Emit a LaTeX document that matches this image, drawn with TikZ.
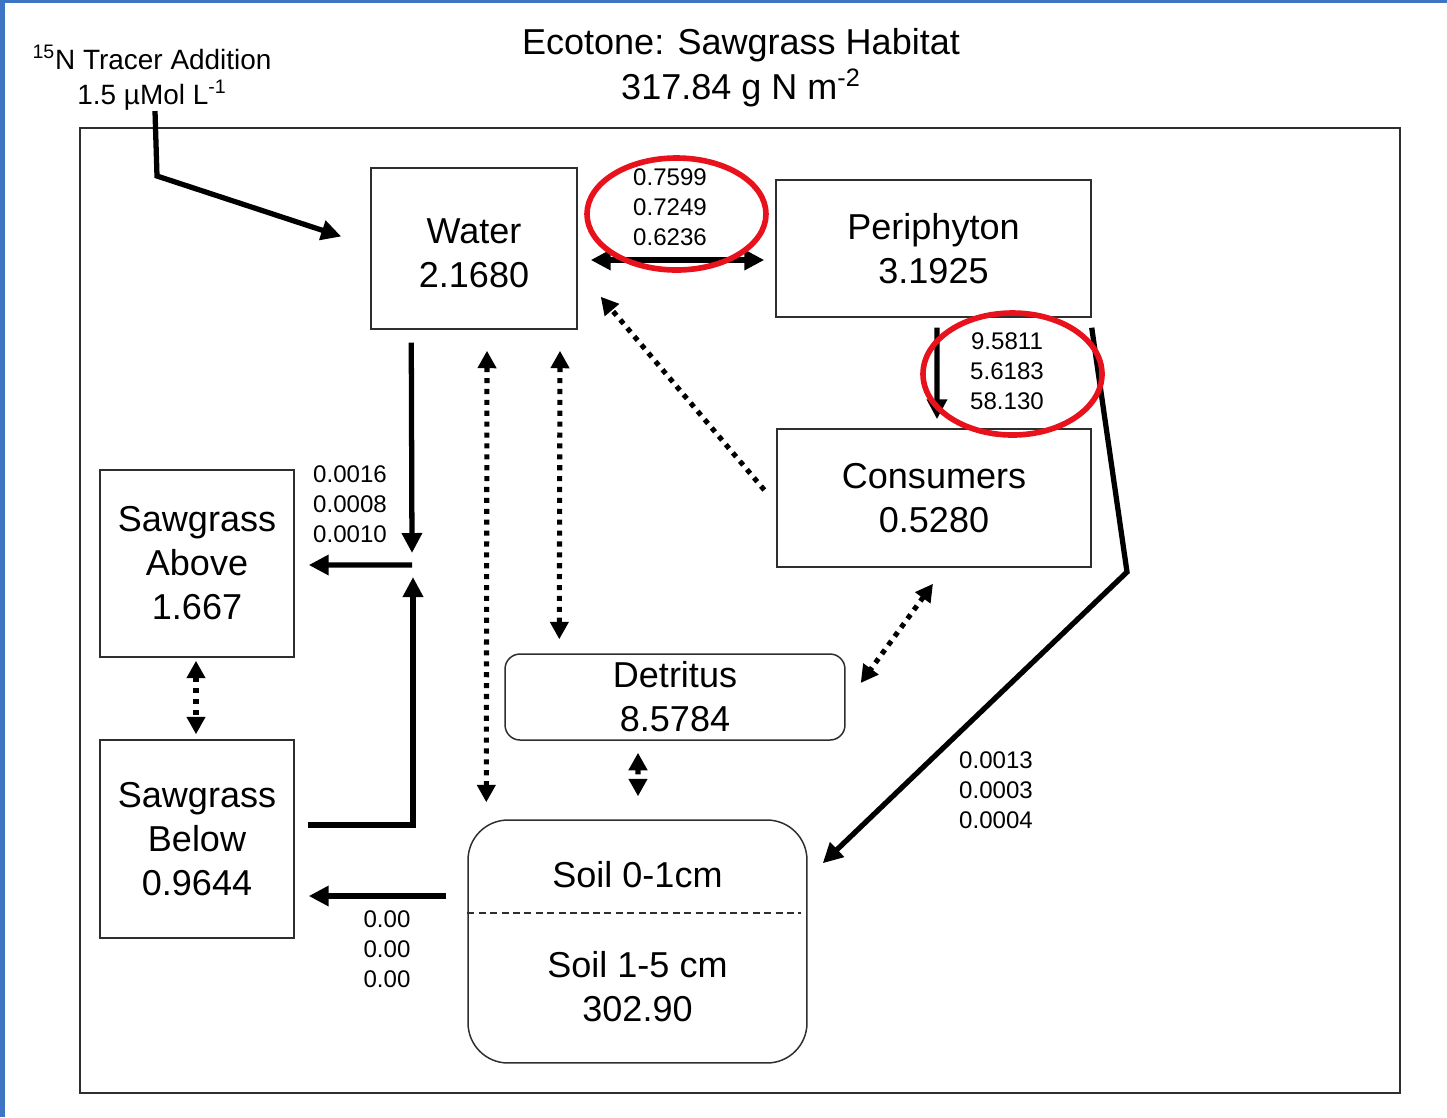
\documentclass[tikz,border=0pt]{standalone}
\usepackage{fontspec}
\setmainfont{Liberation Sans}
\usepackage{tikz}
\usetikzlibrary{arrows.meta,positioning,calc}
\definecolor{SlideBlue}{HTML}{3D74C4}
\definecolor{MarkRed}{HTML}{E8121C}
\definecolor{EdgeGray}{HTML}{2E2E2E}
\tikzset{
  poolbox/.style={draw=EdgeGray, line width=0.85pt, align=center, inner sep=0pt,
                  font=\fontsize{20.5}{25}\selectfont},
  poollabel/.style={align=center, inner sep=0pt, font=\fontsize{20.5}{25}\selectfont},
  fluxnum/.style={align=center, inner sep=0pt, font=\fontsize{13.7}{17}\selectfont},
  fluxarr/.style={-{Triangle[length=4mm,width=3.9mm]}, line width=3pt, miter limit=20},
  fluxboth/.style={{Triangle[length=4mm,width=3.9mm]}-{Triangle[length=4mm,width=3.9mm]}, line width=3pt},
  exchdot/.style={{Triangle[length=3.5mm,width=3.6mm]}-{Triangle[length=3.5mm,width=3.6mm]},
                  line width=2.9pt, dash pattern=on 2.9pt off 3.3pt},
  hilite/.style={draw=MarkRed, line width=3.2pt}
}

\begin{document}
\begin{tikzpicture}[x=0.02cm, y=-0.02cm]
\useasboundingbox (0,0) rectangle (1447,1117);
\fill[SlideBlue] (0,0) rectangle (5,1117);
\fill[SlideBlue] (0,0) rectangle (1447,3);
\draw[EdgeGray, line width=1.1pt] (80,128) rectangle (1400,1093);

\node[poollabel, font=\fontsize{20.5}{25.6}\selectfont] (title) at (741,68) {Ecotone: Sawgrass Habitat\\317.84 g N m\textsuperscript{-2}};
\node[poollabel, font=\fontsize{15.9}{20}\selectfont] (tracer) at (152,78) {\textsuperscript{15}N Tracer Addition\\1.5 µMol L\textsuperscript{-1}};

\node[poolbox, minimum width=4.12cm, minimum height=3.22cm] (water) at (474,248.5) {};
\node[poollabel] (waterlbl) at (474,253) {Water\\2.1680};
\node[poolbox, minimum width=6.3cm, minimum height=2.74cm] (periphyton) at (933.5,248.5) {Periphyton\\3.1925};
\node[poolbox, minimum width=6.28cm, minimum height=2.76cm] (consumers) at (934,498) {Consumers\\0.5280};
\node[poolbox, minimum width=3.88cm, minimum height=3.74cm] (sawabove) at (197,563.5) {Sawgrass\\Above\\1.667};
\node[poolbox, minimum width=3.88cm, minimum height=3.96cm] (sawbelow) at (197,839) {Sawgrass\\Below\\0.9644};
\node[poolbox, rounded corners=0.3cm, minimum width=6.8cm, minimum height=1.72cm] (detritus) at (675,697) {Detritus\\8.5784};
\node[poolbox, rounded corners=0.8cm, minimum width=6.78cm, minimum height=4.86cm] (soil) at (637.5,941.5) {};
\node[poollabel] (soiltop) at (637.5,875) {Soil 0-1cm};
\node[poollabel] (soilbot) at (637.5,987) {Soil 1-5 cm\\302.90};
\draw[EdgeGray, line width=0.85pt, dash pattern=on 4pt off 2.5pt] ($(soil.west)+(0,-28.5)$) -- ($(soil.east)+(-7,-28.5)$);

\node[fluxnum] (wpnum) at (670,207) {0.7599\\0.7249\\0.6236};
\node[fluxnum] (pcnum) at (1007,371) {9.5811\\5.6183\\58.130};
\node[fluxnum] (wsnum) at (350,504) {0.0016\\0.0008\\0.0010};
\node[fluxnum] (psnum) at (996,790) {0.0013\\0.0003\\0.0004};
\node[fluxnum] (ssnum) at (387,949) {0.00\\0.00\\0.00};

\coordinate (tbend) at (157,176);
\coordinate (pbend) at (1127,572);
\coordinate (jct) at (412,565);
\coordinate (lbend) at (413,825);

\draw[fluxarr] ($(tracer.south)+(3,0)$) -- (tbend) -- ($(water.west)+(-29,-12)$);
\draw[fluxboth] ($(water.east)+(13,11.5)$) -- ($(periphyton.west)+(-11,11.5)$);
\draw[fluxarr] ($(periphyton.south)+(3.5,10)$) -- ($(consumers.north)+(3,-9)$);
\draw[fluxarr] ($(periphyton.south east)+(0,10)$) -- (pbend) -- ($(soil.north east)+(15,44)$);
\draw[fluxarr] ($(water.south west)+(41,13)$) -- ($(jct)+(0,-12)$);
\draw[fluxarr] (jct) -- ($(sawabove.east)+(14,1.5)$);
\draw[fluxarr] ($(sawbelow.east)+(13,-14)$) -- (lbend) -- ($(jct)+(1,12)$);
\draw[fluxarr] ($(soil.west)+(-21,-45.5)$) -- ($(sawbelow.east)+(14,57)$);

\draw[exchdot, -{Triangle[length=3.5mm,width=3.6mm]}] ($(consumers.west)+(-12,-8)$) -- ($(water.south east)+(23,-33)$);
\draw[exchdot] ($(water.south)+(13,21)$) -- ($(soil.north west)+(19,-17)$);
\draw[exchdot] ($(water.south)+(86,21)$) -- ($(detritus.north west)+(55,-14)$);
\draw[exchdot] ($(consumers.south)+(-1,16)$) -- ($(detritus.east)+(15,-14)$);
\draw[exchdot] ($(detritus.south)+(-37,12)$) -- ($(soil.north)+(0.5,-23)$);
\draw[exchdot] ($(sawabove.south)+(-1,3)$) -- ($(sawbelow.north)+(-1,-5)$);

\draw[hilite] ($(wpnum)+(6.5,7)$) ellipse [x radius=89.5, y radius=56];
\draw[hilite] ($(pcnum)+(5.5,3)$) ellipse [x radius=89.5, y radius=61];
\end{tikzpicture}
\end{document}
